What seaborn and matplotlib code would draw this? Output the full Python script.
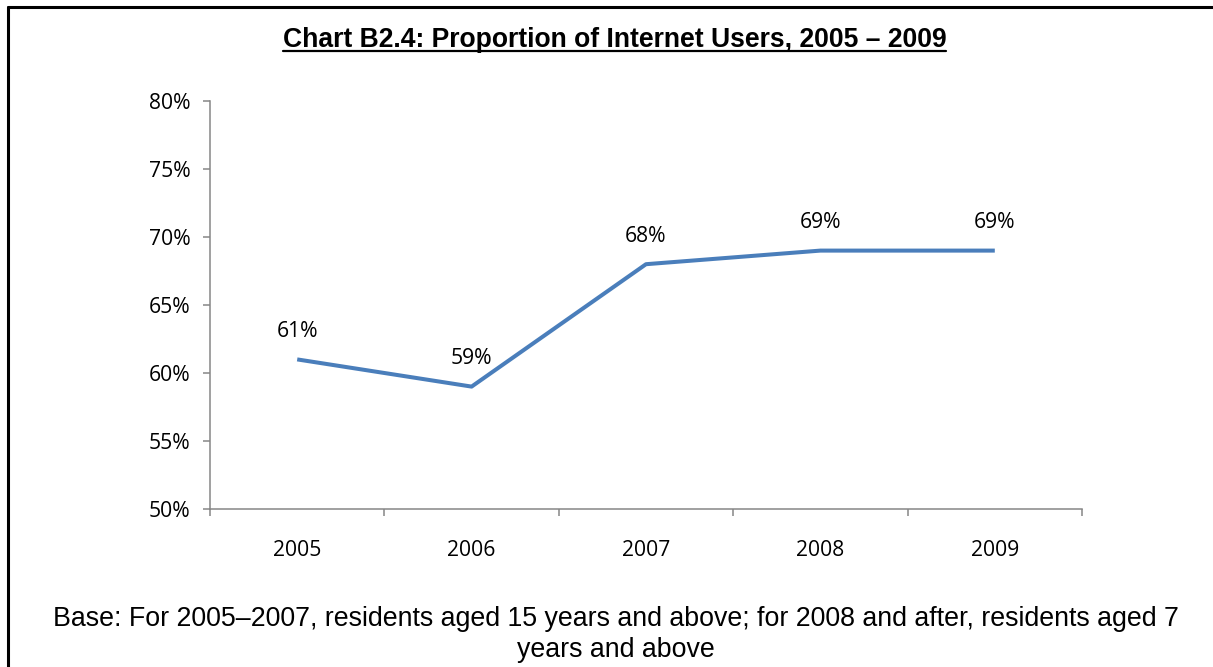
import matplotlib
matplotlib.use("Agg")
import matplotlib.pyplot as plt
import seaborn as sns
import pandas as pd
from matplotlib.lines import Line2D
from matplotlib.ticker import FixedLocator, MultipleLocator, FuncFormatter

years = ["2005", "2006", "2007", "2008", "2009"]
proportion = [61, 59, 68, 69, 69]
title_text = "Chart B2.4: Proportion of Internet Users, 2005 \u2013 2009"
footnote = ("Base: For 2005\u20132007, residents aged 15 years and above; for 2008 and after, residents aged 7\n"
            "years and above")

sns.set_theme(style="white")
plt.rcParams['font.family'] = ['Open Sans', 'DejaVu Sans']
plt.rcParams['text.color'] = 'black'

df = pd.DataFrame({"year": years, "value": proportion})

fig = plt.figure(figsize=(12.13, 6.67), dpi=100)
ax = fig.add_axes([210/1213, 1-509/667, (1082-210)/1213, (509-101)/667])

sns.lineplot(data=df, x="year", y="value", ax=ax, color="#4A7EBB", linewidth=2.9,
             sort=False, solid_capstyle="butt")

ax.set_xlim(-0.5, len(years)-0.5)
ax.set_ylim(50, 80)
ax.yaxis.set_major_locator(MultipleLocator(5))
ax.yaxis.set_major_formatter(FuncFormatter(lambda v, p: f"{int(round(v))}%"))
ax.set_xticks(range(len(years)))
ax.set_xticklabels(years)
ax.xaxis.set_minor_locator(FixedLocator([i - 0.5 for i in range(len(years)+1)]))
ax.set_xlabel("")
ax.set_ylabel("")

gray = "#868686"
for s in ["top", "right"]:
    ax.spines[s].set_visible(False)
for s in ["left", "bottom"]:
    ax.spines[s].set_color(gray)
    ax.spines[s].set_linewidth(1.1)

fs = 15.2
ax.tick_params(axis="y", which="major", direction="out", length=5, width=1.1, color=gray,
               left=True, labelsize=fs, pad=9, labelcolor="black")
ax.tick_params(axis="x", which="major", length=0, labelsize=fs, pad=22, labelcolor="black")
ax.tick_params(axis="x", which="minor", direction="out", length=5, width=1.1, color=gray, bottom=True)

for i, v in enumerate(proportion):
    ax.annotate(f"{v}%", (i, v), xytext=(0, 28), textcoords="offset pixels",
                ha="center", va="center", fontsize=fs, color="black")

t = fig.text(614.5/1213, 1-40/667, title_text, ha="center", va="center", color="black",
             fontsize=19.1, fontweight="bold", family=["Liberation Sans", "DejaVu Sans"])

fig.text(615.5/1213, 1-634.5/667, footnote, ha="center", va="center", color="black",
         fontsize=19.3, family=["Liberation Sans", "DejaVu Sans"], linespacing=1.25)

# underline the title
fig.canvas.draw()
bb = t.get_window_extent(renderer=fig.canvas.get_renderer())
uy = (667 - 51) / 667
fig.add_artist(Line2D([bb.x0/1213, bb.x1/1213], [uy, uy],
                      transform=fig.transFigure, color="black", linewidth=1.6))

# frame lines (top and left)
fig.add_artist(Line2D([7.5/1213, 1.0], [1-7/667, 1-7/667], transform=fig.transFigure,
                      color="black", linewidth=2.2))
fig.add_artist(Line2D([7.5/1213, 7.5/1213], [0, 1-7/667], transform=fig.transFigure,
                      color="black", linewidth=2.2))

fig.savefig("out.png", dpi=100)
